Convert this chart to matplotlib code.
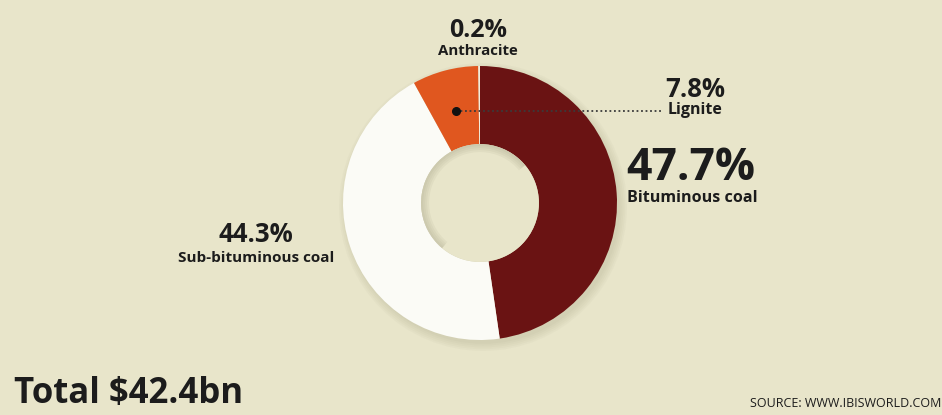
import matplotlib
matplotlib.use("Agg")
import matplotlib.pyplot as plt
from matplotlib.patches import Circle, Wedge

# Data
categories = ["Bituminous coal", "Sub-bituminous coal", "Lignite", "Anthracite"]
shares = [47.7, 44.3, 7.8, 0.2]
pct_labels = ["47.7%", "44.3%", "7.8%", "0.2%"]
colors = ["#6a1313", "#fbfbf6", "#e0571f", "#f2ecdc"]
total_label = "Total $42.4bn"
source_label = "SOURCE: WWW.IBISWORLD.COM"

W, H = 942, 415
BG = "#e8e5ca"
TXT = "#1c1c1c"
FONT = "Open Sans"

fig = plt.figure(figsize=(W / 100, H / 100), dpi=100, facecolor=BG)
ax = fig.add_axes([0, 0, 1, 1])
ax.set_facecolor(BG)

cx, cy = 480, H - 203
R = 137
hole = 0.43

# soft shadow
for i in range(5):
    ax.add_patch(Circle((cx + 3, cy - 4), R + 7 - i * 1.8, color="#8a8668",
                        alpha=0.045, lw=0, zorder=1))

wedges, _ = ax.pie(shares, colors=colors, startangle=90, counterclock=False,
                   radius=R, center=(cx, cy), frame=True,
                   wedgeprops=dict(width=R * (1 - hole), linewidth=0))
for w in wedges:
    w.set_zorder(2)
ax.set_xlim(0, W)
ax.set_ylim(0, H)
ax.set_aspect("equal")
ax.axis("off")

# inner hole with soft inner shadow
ax.add_patch(Circle((cx, cy), R * hole, color=BG, lw=0, zorder=3))
for i in range(4):
    ax.add_patch(Wedge((cx, cy), R * hole, 40, 230, width=2 + i * 2,
                       color="#a9a68a", alpha=0.12, lw=0, zorder=3))

def lab(x, y, s, size, ha="center", weight="bold"):
    ax.text(x, H - y, s, fontsize=size, fontweight=weight, family=FONT,
            color=TXT, ha=ha, va="baseline", zorder=6)

# Bituminous
lab(691, 180, pct_labels[0], 32)
lab(692, 202, categories[0], 11.6)
# Sub-bituminous
lab(256, 242, pct_labels[1], 18.5)
lab(256, 262, categories[1], 11)
# Lignite
lab(695, 97, pct_labels[2], 18.5)
lab(695, 114, categories[2], 11.5)
# Anthracite
lab(478, 37, pct_labels[3], 18)
lab(478, 55, categories[3], 10.8)

# lignite leader
ax.plot([456, 663], [H - 111, H - 111], color="#3a3a3a", lw=1.3,
        ls=(0, (1, 1.5)), zorder=4)
ax.plot([456], [H - 111], marker="o", ms=5.5, color="#111111", zorder=5)

lab(14, 403, total_label, 25, ha="left")
lab(941, 407, source_label, 9, ha="right", weight="normal")

fig.savefig("out.png", dpi=100, facecolor=BG)
